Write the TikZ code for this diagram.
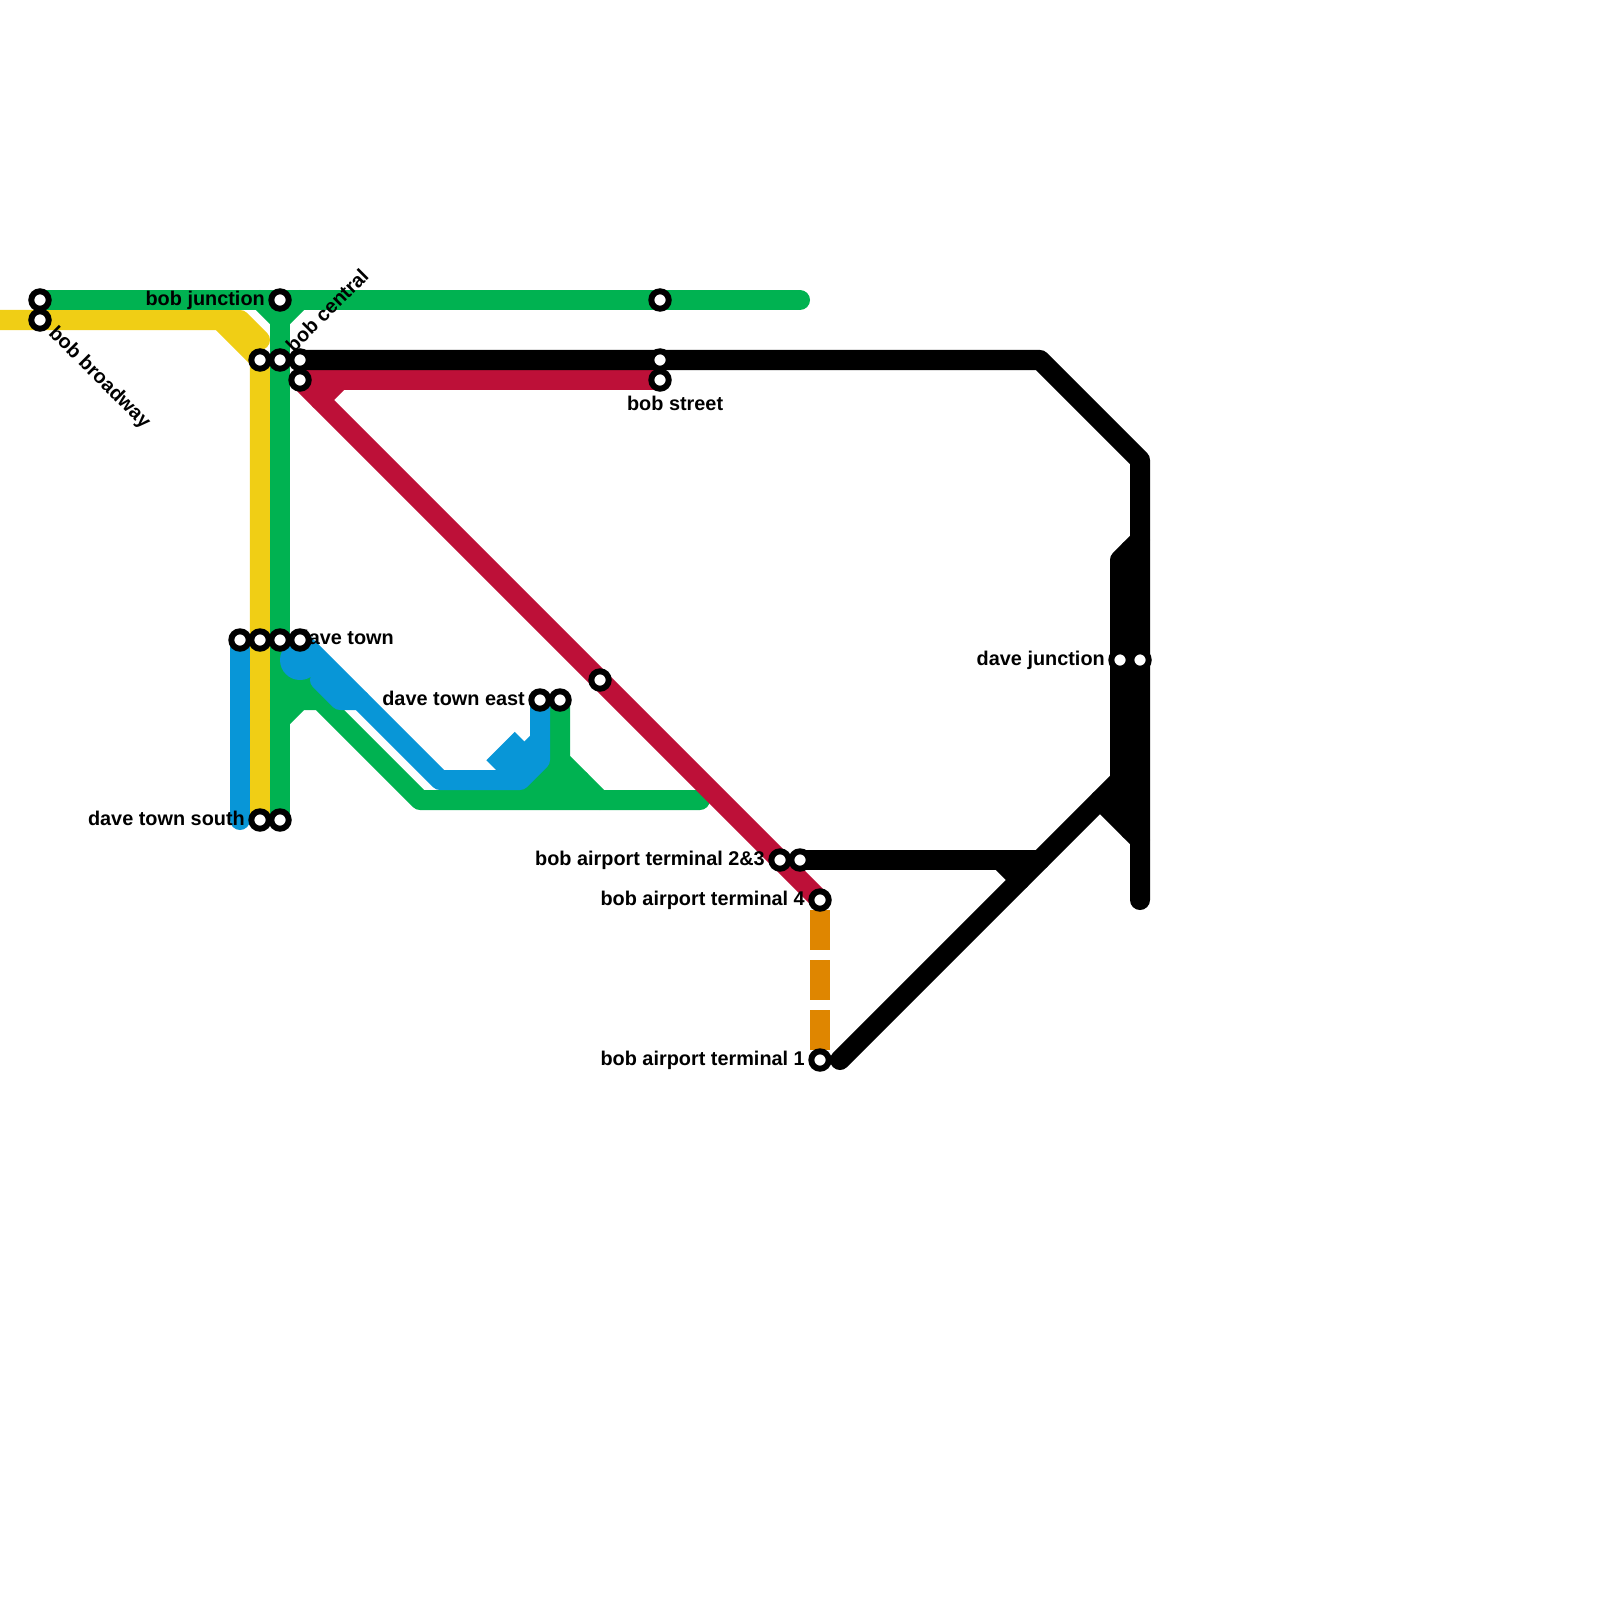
\documentclass[tikz,border=0pt]{standalone}
\usepackage{fontspec}
\setmainfont{Liberation Sans}
\usepackage{xcolor}
\usetikzlibrary{positioning}
\definecolor{linegreen}{HTML}{00B251}
\definecolor{lineyellow}{HTML}{F0CE15}
\definecolor{lineblue}{HTML}{0896D7}
\definecolor{linered}{HTML}{BD1038}
\definecolor{lineorange}{HTML}{DF8600}
\pgfdeclarelayer{lines}
\pgfdeclarelayer{top}
\pgfsetlayers{lines,main,top}

\begin{document}
\begin{tikzpicture}[
  x=0.01cm, y=-0.01cm,
  station/.style={circle, draw=black, fill=white, line width=1.7pt, minimum size=4.95pt, inner sep=0pt},
  metro/.style={line width=0.2cm, line cap=round, line join=round},
  stub/.style={line width=0.2cm, line cap=butt},
  lbl/.style={inner sep=0pt, text height=4pt, text depth=1.15pt, font=\fontsize{5.65pt}{6pt}\selectfont\bfseries}
]
\useasboundingbox (0,0) rectangle (1600,1600);

% stations
\begin{pgfonlayer}{top}
\node[station] (broadwayg) at (40,300) {};
\node[station] (broadwayy) at (40,320) {};
\node[station] (junction) at (280,300) {};
\node[station] (centraly) at (260,360) {};
\node[station] (centralg) at (280,360) {};
\node[station] (centralk) at (300,360) {};
\node[station] (centralr) at (300,380) {};
\node[station] (streetg) at (660,300) {};
\node[station] (streetk) at (660,360) {};
\node[station] (streetr) at (660,380) {};
\node[station] (townb) at (240,640) {};
\node[station] (towny) at (260,640) {};
\node[station] (towng) at (280,640) {};
\node[station] (townc) at (300,640) {};
\node[station] (eastb) at (540,700) {};
\node[station] (eastg) at (560,700) {};
\node[station] (midr) at (600,680) {};
\node[station] (southy) at (260,820) {};
\node[station] (southg) at (280,820) {};
\node[station] (airportr) at (780,860) {};
\node[station] (airportk) at (800,860) {};
\node[station] (airportf) at (820,900) {};
\node[station] (airporto) at (820,1060) {};
\node[station] (daveb) at (1120,660) {};
\node[station] (davea) at (1140,660) {};
\end{pgfonlayer}

% bends and free ends
\coordinate (yw) at (0,320);
\coordinate (ya) at (220,320);
\coordinate (yb) at (240,320);
\coordinate (yc) at (260,340);
\coordinate (ge) at (800,300);
\coordinate (gl) at (260,300);
\coordinate (gr) at (300,300);
\coordinate (gm) at (280,320);
\coordinate (gd) at (280,720);
\coordinate (gc) at (280,700);
\coordinate (gf) at (300,700);
\coordinate (gh) at (320,700);
\coordinate (gi) at (420,800);
\coordinate (gj) at (700,800);
\coordinate (gn) at (280,680);
\coordinate (gp) at (320,680);
\coordinate (gq) at (560,760);
\coordinate (gs) at (600,800);
\coordinate (gt) at (530,790);
\coordinate (gu) at (530,780);
\coordinate (gv) at (580,780);
\coordinate (bs) at (240,820);
\coordinate (ba) at (440,780);
\coordinate (bb) at (520,780);
\coordinate (bc) at (540,760);
\coordinate (bd) at (320,680);
\coordinate (be) at (340,700);
\coordinate (bf) at (360,700);
\coordinate (bh) at (510,770);
\coordinate (bi) at (540,740);
\coordinate (bj) at (500.5,746);
\coordinate (bk) at (515,760.5);
\coordinate (rc) at (340,380);
\coordinate (rd) at (320,400);
\coordinate (ka) at (1040,360);
\coordinate (kb) at (1140,460);
\coordinate (kc) at (1140,900);
\coordinate (kd) at (1140,540);
\coordinate (kf) at (1120,560);
\coordinate (kg) at (1120,780);
\coordinate (kh) at (840,1060);
\coordinate (ki) at (1040,860);
\coordinate (kj) at (1000,860);
\coordinate (kk) at (1020,880);
\coordinate (kl) at (1100,800);
\coordinate (km) at (1140,840);
\coordinate (kn) at (1120,810);
\coordinate (kp) at (1130,550);
\coordinate (kq) at (1130,830);
\coordinate (oa) at (820,910);

% lines
\begin{pgfonlayer}{lines}
\draw[metro, lineyellow] (yw) -- (yb) -- (yc);
\draw[metro, lineyellow] (ya) -- (centraly.center) -- (southy.center);
\draw[metro, linegreen] (broadwayg.center) -- (ge);
\draw[metro, linegreen] (junction.center) -- (southg.center);
\draw[metro, linegreen] (gl) -- (gm) -- (gr);
\draw[metro, linegreen] (gd) -- (gf) -- (gh) -- (gi) -- (gj);
\draw[metro, linegreen] (gc) -- (gf);
\draw[metro, linegreen] (gn) -- (gp);
\draw[metro, linegreen] (eastg.center) -- (gq) -- (gs);
\draw[metro, linegreen] (gq) -- (gt);
\draw[metro, linegreen] (gu) -- (gv);
\draw[metro, lineblue] (townb.center) -- (bs);
\draw[metro, lineblue] (townc.center) -- (ba) -- (bb) -- (bc) -- (eastb.center);
\draw[metro, lineblue] (bd) -- (be) -- (bf);
\draw[metro, lineblue] (bh) -- (bi);
\draw[stub, lineblue, line width=0.4cm] (bj) -- (bk);
\fill[lineblue] (300,660) circle [radius=20];
\draw[metro, linered] (centralr.center) -- (streetr.center);
\draw[metro, linered] (centralr.center) -- (airportf.center);
\draw[metro, linered] (rc) -- (rd);
\draw[metro] (centralk.center) -- (ka) -- (kb) -- (kc);
\draw[metro] (kd) -- (kf) -- (kg) -- (kh);
\draw[metro] (kg) -- (kn);
\draw[metro] (kp) -- (kq);
\draw[metro] (airportk.center) -- (ki);
\draw[metro] (kj) -- (kk);
\draw[metro] (kl) -- (km);
\draw[stub, lineorange, dash pattern=on 0.4cm off 0.1cm] (oa) -- (airporto.center);
\end{pgfonlayer}

% labels
\node[lbl, left=0.8pt of junction] (ljunction) {bob junction};
\node[lbl, rotate=-45, anchor=west] (lbroadway) at (51,330) {bob broadway};
\node[lbl, rotate=45, anchor=west] (lcentral) at (290,350) {bob central};
\node[lbl, below=1.1pt of streetr, xshift=4.3pt] (lstreet) {bob street};
\node[lbl, anchor=west] (ltown) at (296,639.5) {dave town};
\node[lbl, left=0.8pt of eastb] (least) {dave town east};
\node[lbl, left=0.8pt of southy] (lsouth) {dave town south};
\node[lbl, left=0.8pt of airportr] (lairportr) {bob airport terminal 2\&3};
\node[lbl, left=0.8pt of airportf] (lairportf) {bob airport terminal 4};
\node[lbl, left=0.8pt of airporto] (lairporto) {bob airport terminal 1};
\node[lbl, left=0.8pt of daveb] (ldave) {dave junction};
\end{tikzpicture}
\end{document}
